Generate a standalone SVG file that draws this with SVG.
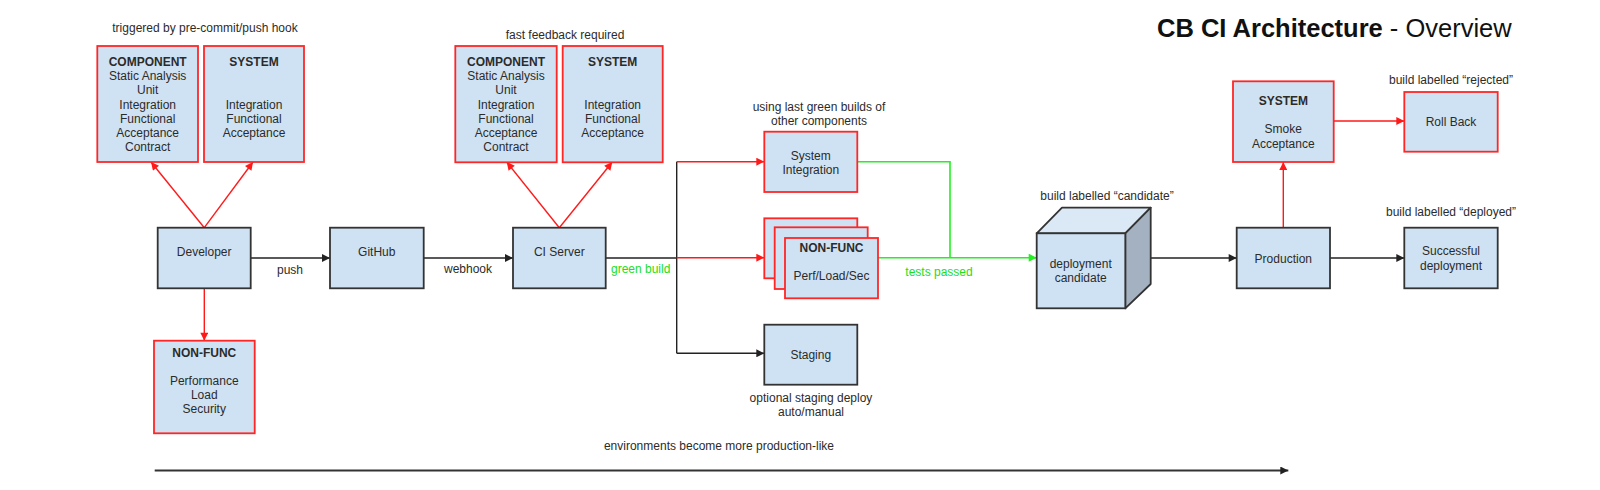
<svg xmlns="http://www.w3.org/2000/svg" width="1600" height="490" viewBox="0 0 1600 490">
<style>
text{font-family:"Liberation Sans",Arial,sans-serif;font-size:12px;fill:#2b2b2b;text-anchor:middle}
.b{font-weight:bold}
.box{fill:#cfe2f3;stroke:#333;stroke-width:1.8}
.rbox{fill:#cfe2f3;stroke:#ff2626;stroke-width:1.8}
.ck{fill:none;stroke:#222;stroke-width:1.4}
.cr{fill:none;stroke:#ff1a1a;stroke-width:1.4}
.cg{fill:none;stroke:#22f022;stroke-width:1.6}
.g{fill:#22dd22}
</style>
<defs>
<marker id="ak" viewBox="0 0 10 10" refX="10" refY="5" markerWidth="9" markerHeight="8" markerUnits="userSpaceOnUse" orient="auto"><path d="M0,0L10,5L0,10z" fill="#222"/></marker>
<marker id="ar" viewBox="0 0 10 10" refX="10" refY="5" markerWidth="9" markerHeight="8" markerUnits="userSpaceOnUse" orient="auto"><path d="M0,0L10,5L0,10z" fill="#ff1a1a"/></marker>
<marker id="ag" viewBox="0 0 10 10" refX="10" refY="5" markerWidth="9" markerHeight="8" markerUnits="userSpaceOnUse" orient="auto"><path d="M0,0L10,5L0,10z" fill="#22f022"/></marker>
</defs>
<rect width="1600" height="490" fill="#fff"/>

<text x="1157" y="37" style="text-anchor:start;font-size:25.5px;fill:#111"><tspan class="b">CB CI Architecture</tspan> - Overview</text>

<g id="labels">
<text x="205" y="32">triggered by pre-commit/push hook</text>
<text x="565" y="39">fast feedback required</text>
<text x="290" y="274">push</text>
<text x="468" y="273">webhook</text>
<text x="611" y="273" class="g" style="text-anchor:start">green build</text>
<text x="819" y="110.5">using last green builds of</text>
<text x="819" y="125">other components</text>
<text x="939" y="275.5" class="g">tests passed</text>
<text x="811" y="402">optional staging deploy</text>
<text x="811" y="416">auto/manual</text>
<text x="1107" y="200">build labelled “candidate”</text>
<text x="1451" y="84">build labelled “rejected”</text>
<text x="1451" y="216">build labelled “deployed”</text>
<text x="719" y="450">environments become more production-like</text>
</g>

<g id="connectors">
<path class="cr" d="M204.3,227.7L151,162" marker-end="url(#ar)"/>
<path class="cr" d="M204.3,227.7L253,162" marker-end="url(#ar)"/>
<path class="cr" d="M204.3,288.3L204.3,340.7" marker-end="url(#ar)"/>
<path class="ck" d="M250.7,258L330,258" marker-end="url(#ak)"/>
<path class="ck" d="M423.7,258L513,258" marker-end="url(#ak)"/>
<path class="cr" d="M559.3,227.7L506.7,162" marker-end="url(#ar)"/>
<path class="cr" d="M559.3,227.7L612.3,162" marker-end="url(#ar)"/>
<path class="ck" d="M605.7,258L676.7,258"/>
<path class="ck" d="M676.7,161.7L676.7,353.3"/>
<path class="cr" d="M676.7,161.7L764.3,161.7" marker-end="url(#ar)"/>
<path class="cr" d="M676.7,257.7L764.3,257.7" marker-end="url(#ar)"/>
<path class="ck" d="M676.7,353.3L764.3,353.3" marker-end="url(#ak)"/>
<path class="cg" d="M857.3,161.7L950,161.7L950,257.7"/>
<path class="cg" d="M878,257.7L1036.7,257.7" marker-end="url(#ag)"/>
<path class="ck" d="M1150.7,258L1236.7,258" marker-end="url(#ak)"/>
<path class="cr" d="M1283.3,227.7L1283.3,162" marker-end="url(#ar)"/>
<path class="cr" d="M1333.7,121L1404.3,121" marker-end="url(#ar)"/>
<path class="ck" d="M1330,258L1404.3,258" marker-end="url(#ak)"/>
<path d="M154.7,470.5L1288.3,470.5" fill="none" stroke="#333" stroke-width="2" marker-end="url(#ak)"/>
</g>

<g id="dev-component">
<rect class="rbox" x="97.3" y="46" width="100.7" height="116"/>
<text x="147.7" y="66" class="b">COMPONENT</text>
<text x="147.7" y="80">Static Analysis</text>
<text x="147.7" y="94.3">Unit</text>
<text x="147.7" y="108.6">Integration</text>
<text x="147.7" y="122.6">Functional</text>
<text x="147.7" y="136.6">Acceptance</text>
<text x="147.7" y="150.6">Contract</text>
</g>
<g id="dev-system">
<rect class="rbox" x="204" y="46" width="100" height="116"/>
<text x="254" y="66" class="b">SYSTEM</text>
<text x="254" y="108.6">Integration</text>
<text x="254" y="122.6">Functional</text>
<text x="254" y="136.6">Acceptance</text>
</g>
<g id="developer">
<rect class="box" x="157.7" y="227.7" width="93" height="60.6"/>
<text x="204.2" y="256">Developer</text>
</g>
<g id="dev-nonfunc">
<rect class="rbox" x="154" y="340.7" width="100.7" height="92.6"/>
<text x="204.3" y="356.5" class="b">NON-FUNC</text>
<text x="204.3" y="385">Performance</text>
<text x="204.3" y="399.2">Load</text>
<text x="204.3" y="413.3">Security</text>
</g>
<g id="github">
<rect class="box" x="330" y="227.7" width="93.7" height="60.6"/>
<text x="376.8" y="256">GitHub</text>
</g>
<g id="ci-server">
<rect class="box" x="513" y="227.7" width="92.7" height="60.6"/>
<text x="559.3" y="255.6">CI Server</text>
</g>
<g id="ci-component">
<rect class="rbox" x="455.3" y="46" width="101.4" height="116.3"/>
<text x="506" y="66" class="b">COMPONENT</text>
<text x="506" y="80">Static Analysis</text>
<text x="506" y="94.3">Unit</text>
<text x="506" y="108.6">Integration</text>
<text x="506" y="122.6">Functional</text>
<text x="506" y="136.6">Acceptance</text>
<text x="506" y="150.6">Contract</text>
</g>
<g id="ci-system">
<rect class="rbox" x="562.7" y="46" width="100" height="116.3"/>
<text x="612.7" y="66" class="b">SYSTEM</text>
<text x="612.7" y="108.6">Integration</text>
<text x="612.7" y="122.6">Functional</text>
<text x="612.7" y="136.6">Acceptance</text>
</g>
<g id="system-integration">
<rect class="rbox" x="764.3" y="131.7" width="93" height="60.3"/>
<text x="810.8" y="159.6">System</text>
<text x="810.8" y="173.6">Integration</text>
</g>
<g id="nonfunc-stack">
<rect class="rbox" x="764.3" y="218.3" width="93" height="60"/>
<rect class="rbox" x="774.7" y="227.3" width="93" height="61.7"/>
<rect class="rbox" x="785" y="238" width="93" height="60.3"/>
<text x="831.5" y="252" class="b">NON-FUNC</text>
<text x="831.5" y="280">Perf/Load/Sec</text>
</g>
<g id="staging">
<rect class="box" x="764.3" y="324.7" width="93" height="60"/>
<text x="810.8" y="359.3">Staging</text>
</g>
<g id="deployment-candidate">
<polygon points="1036.7,233.3 1062,207.7 1150.7,207.7 1125.3,233.3" fill="#dbe8f5" stroke="#333" stroke-width="1.8" stroke-linejoin="round"/>
<polygon points="1125.3,233.3 1150.7,207.7 1150.7,284 1125.3,308.3" fill="#a3b1c0" stroke="#333" stroke-width="1.8" stroke-linejoin="round"/>
<rect class="box" x="1036.7" y="233.3" width="88.6" height="75"/>
<text x="1080.7" y="268.3">deployment</text>
<text x="1080.7" y="282.3">candidate</text>
</g>
<g id="production">
<rect class="box" x="1236.7" y="227.7" width="93.3" height="60.6"/>
<text x="1283.3" y="262.6">Production</text>
</g>
<g id="smoke">
<rect class="rbox" x="1233" y="81.3" width="100.7" height="80.7"/>
<text x="1283.3" y="104.6" class="b">SYSTEM</text>
<text x="1283.3" y="133.3">Smoke</text>
<text x="1283.3" y="147.6">Acceptance</text>
</g>
<g id="roll-back">
<rect class="rbox" x="1404.3" y="92" width="93.4" height="59.7"/>
<text x="1451" y="126">Roll Back</text>
</g>
<g id="successful">
<rect class="box" x="1404.3" y="227.7" width="93.4" height="60.6"/>
<text x="1451" y="255.3">Successful</text>
<text x="1451" y="270">deployment</text>
</g>
</svg>
